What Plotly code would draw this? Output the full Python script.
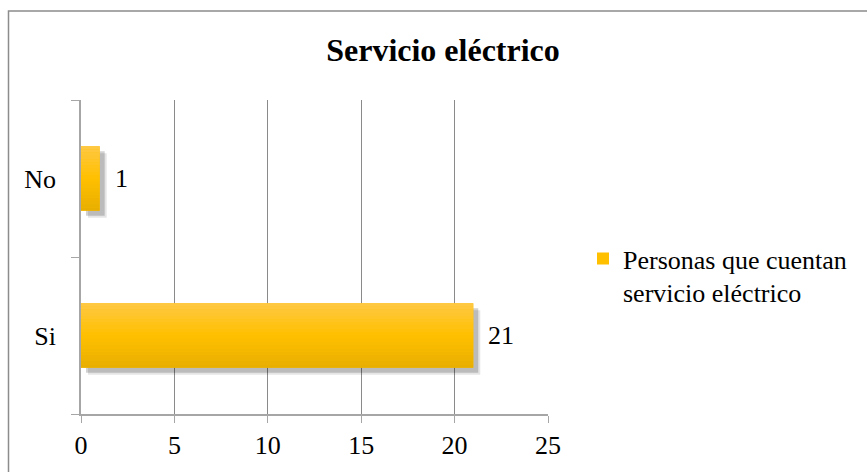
import plotly.graph_objects as go

categories = ["Si", "No"]
values = [21, 1]
series_name = "Personas que cuentan<br>servicio eléctrico"
title_text = "Servicio eléctrico"
x_ticks = [0, 5, 10, 15, 20, 25]

FONT = "'Times New Roman', 'Liberation Serif', Times, serif"
FS = 26
W, H = 867, 472
L, R, T, B = 81, 319, 100, 56
pw, ph = W - L - R, H - T - B

BW = 0.41          # bar thickness in category units
dx = 5 / pw * 25   # shadow shift (x units)
dy = 5 / ph * 2    # shadow shift (category units)

fig = go.Figure()

# soft shadow
for k, a in enumerate([0.10, 0.18]):
    fig.add_trace(go.Bar(
        x=values, y=categories, orientation="h", width=BW,
        base=dx * (1 + 0.4 * (1 - k)), offset=-BW / 2 - dy * (1 + 0.4 * (1 - k)),
        marker=dict(color=f"rgba(0,0,0,{a})", line=dict(width=0)),
        showlegend=False, hoverinfo="skip",
    ))

# gradient bar built from horizontal strips
def lerp(c1, c2, t):
    return tuple(round(c1[i] + (c2[i] - c1[i]) * t) for i in range(3))

top, mid, bot = (255, 200, 70), (255, 192, 0), (232, 174, 0)
N = 20
fig.add_trace(go.Bar(
    x=values, y=categories, orientation="h", width=BW,
    name=series_name,
    marker=dict(color="#FFC000", line=dict(width=0)),
))
for i in range(N):
    t = (i + 0.5) / N  # 0 = top, 1 = bottom
    col = lerp(top, mid, t / 0.5) if t < 0.5 else lerp(mid, bot, (t - 0.5) / 0.5)
    off = BW / 2 - (i + 1) * BW / N
    fig.add_trace(go.Bar(
        x=values, y=categories, orientation="h", width=BW / N * 1.05,
        offset=off, marker=dict(color="rgb(%d,%d,%d)" % col, line=dict(width=0)),
        showlegend=False, hoverinfo="skip",
    ))

for v, c in zip(values, categories):
    fig.add_annotation(x=v, y=c, text=str(v), showarrow=False,
                       xanchor="left", xshift=13,
                       font=dict(family=FONT, size=FS, color="#000"))

fig.update_layout(
    width=W, height=H,
    margin=dict(l=L, r=R, t=T, b=B),
    paper_bgcolor="white", plot_bgcolor="white",
    barmode="overlay",
    font=dict(family=FONT, size=FS, color="#000"),
    title=dict(text="<b>" + title_text + "</b>", x=443 / W, xanchor="center",
               y=1 - 50 / H, yanchor="middle",
               font=dict(family=FONT, size=32, color="#000")),
    xaxis=dict(range=[0, 25], tickvals=x_ticks, showgrid=True, gridcolor="#8A8A8A",
               gridwidth=1, zeroline=False, showline=True, linecolor="#A6A6A6",
               linewidth=1.5, ticks="outside", ticklen=7, tickcolor="#A6A6A6",
               tickfont=dict(family=FONT, size=FS)),
    yaxis=dict(range=[-0.5, 1.5], showgrid=False, zeroline=False, showline=True,
               linecolor="#A6A6A6", linewidth=1.5, ticks="outside", ticklen=8,
               tickcolor="#A6A6A6", tickson="boundaries", ticklabelstandoff=18,
               tickfont=dict(family=FONT, size=FS)),
    legend=dict(x=(583 - L) / pw, y=(416 - 236) / ph, xanchor="left", yanchor="top",
                font=dict(family=FONT, size=FS), itemwidth=30, valign="top",
                bgcolor="rgba(0,0,0,0)"),
    showlegend=True,
    shapes=[dict(type="rect", xref="paper", yref="paper",
                 x0=(8.5 - L) / pw, x1=2.0, y0=-2.0, y1=(H - B - 10.5) / ph,
                 line=dict(color="#8C8C8C", width=1.5), layer="below")],
)

fig.write_html("out.html")
